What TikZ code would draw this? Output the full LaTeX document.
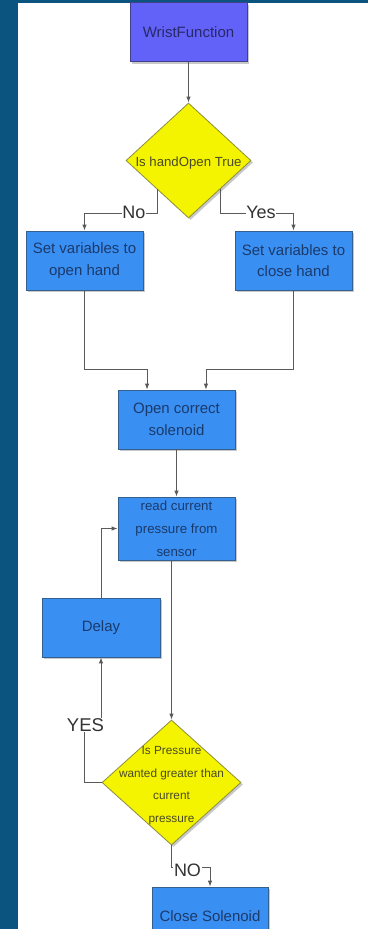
\documentclass[tikz,border=0pt]{standalone}
\usepackage{fontspec}
\setmainfont{Liberation Sans}
\usetikzlibrary{shapes.geometric,arrows.meta,shadows,calc}

\definecolor{pagebg}{HTML}{0C5480}
\definecolor{boxfill}{HTML}{3A8FF2}
\definecolor{boxline}{HTML}{33608F}
\definecolor{boxtext}{HTML}{1B3A6C}
\definecolor{startfill}{HTML}{6262F8}
\definecolor{startline}{HTML}{40408C}
\definecolor{starttext}{HTML}{28286A}
\definecolor{askfill}{HTML}{F4F400}
\definecolor{askline}{HTML}{8E8E3C}
\definecolor{asktext}{HTML}{4A4A26}
\definecolor{wire}{HTML}{5A5A5A}
\definecolor{wiretext}{HTML}{333333}

\tikzset{
  softshadow/.style={drop shadow={shadow xshift=2pt, shadow yshift=-2pt, opacity=.3, fill=black!70}},
  procbox/.style={rectangle, draw=boxline, fill=boxfill, line width=.8pt,
    text=boxtext, minimum width=117pt, minimum height=59pt, inner sep=0pt,
    align=center, font=\fontsize{15}{21.6}\selectfont, softshadow},
  startbox/.style={procbox, fill=startfill, draw=startline, text=starttext},
  decision/.style={diamond, draw=askline, fill=askfill, line width=.8pt,
    inner sep=0pt, softshadow},
  asktxt/.style={text=asktext, align=center, inner sep=0pt},
  conn/.style={draw=wire, line width=.9pt, -{Latex[length=6pt,width=4.5pt]}},
  elabel/.style={fill=white, text=wiretext, inner sep=.8pt, font=\fontsize{18}{20}\selectfont}
}

\begin{document}
\begin{tikzpicture}[x=1pt,y=-1pt]
  \useasboundingbox (0,0) rectangle (368,929);
  \clip (0,0) rectangle (368,929);
  % page frame and canvas
  \fill[pagebg] (0,0) rectangle (368,929);
  \fill[white] (18,3) rectangle (368,929);

  % blocks
  \node[startbox] (wrist) at (188.5,32) {WristFunction};
  \node[decision, minimum width=125pt, minimum height=115pt] (q1) at (188.5,160.5) {};
  \node[asktxt, font=\fontsize{13.2}{15}\selectfont] (q1t) at (188.5,163) {Is handOpen True};
  \node[procbox] (setopen) at (84.5,260.5) {Set variables to\\open hand};
  \node[procbox] (setclose) at (293.5,260.5) {Set variables to\\close hand};
  \node[procbox] (opensol) at (176.5,419.5) {Open correct\\solenoid};
  \node[procbox, minimum height=63pt, font=\fontsize{13.3}{23}\selectfont] (read) at (176.5,528.5)
    {read current\\pressure from\\sensor};
  \node[procbox, minimum width=118pt] (delay) at (101,627.5) {Delay};
  \node[decision, minimum width=139pt, minimum height=125pt] (q2) at (171.5,782.5) {};
  \node[asktxt, font=\fontsize{11.8}{22.5}\selectfont] (q2t) at (171.5,785.5)
    {Is Pressure\\wanted greater than\\current\\pressure};
  \node[procbox, minimum width=116pt] (close) at (210,916.5) {Close Solenoid};

  % exits of the first decision
  \coordinate (noout) at ($(q1.south)!.5!(q1.west)$);
  \coordinate (yesout) at ($(q1.south)!.5!(q1.east)$);
  \coordinate (inA) at ($(opensol.north west)!.25!(opensol.north east)$);
  \coordinate (inB) at ($(opensol.north west)!.75!(opensol.north east)$);

  % connectors
  \draw[conn] (wrist.south) -- (q1.north);
  \draw[conn] (noout) -- (noout |- 0,213) -- (setopen.north |- 0,213) -- (setopen.north);
  \draw[conn] (yesout) -- (yesout |- 0,213) -- (setclose.north |- 0,213) -- (setclose.north);
  \draw[conn] (setopen.south) -- (setopen.south |- 0,369) -- (inA |- 0,369) -- (inA);
  \draw[conn] (setclose.south) -- (setclose.south |- 0,369) -- (inB |- 0,369) -- (inB);
  \draw[conn] (opensol.south) -- (read.north);
  \draw[conn] (q2.north |- read.south) -- (q2.north);
  \draw[conn] (delay.north) |- (read.west);
  \draw[conn] (q2.west) -- (84,782.5) -- (84,725) -- (delay.south |- 0,725) -- (delay.south);
  \draw[conn] (q2.south) -- (q2.south |- 0,867) -- (close.north |- 0,867) -- (close.north);

  % branch labels
  \node[elabel] (lno) at (134,212.5) {No};
  \node[elabel] (lyes) at (261,212) {Yes};
  \node[elabel, font=\fontsize{18.5}{20}\selectfont] (lyes2) at (85.5,725) {YES};
  \node[elabel] (lno2) at (187.5,870) {NO};
\end{tikzpicture}
\end{document}
